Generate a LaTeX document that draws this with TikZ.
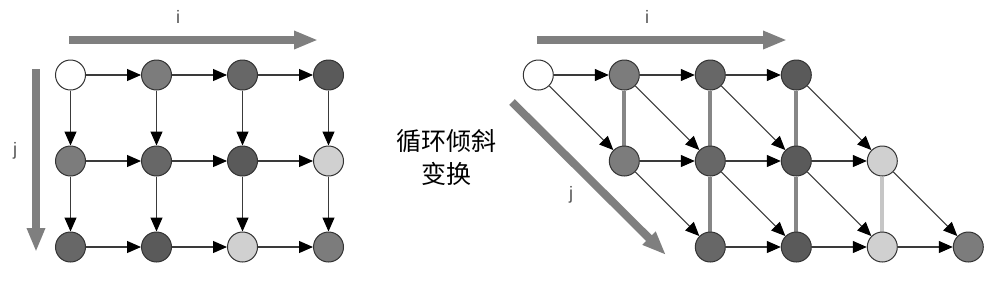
\documentclass[tikz,border=0pt]{standalone}
\usepackage{fontspec}
\setmainfont{Liberation Sans}
\newfontfamily\cjk{Noto Sans CJK SC}
\usetikzlibrary{arrows.meta}
\pgfdeclarelayer{bg}
\pgfsetlayers{bg,main}
\definecolor{cw}{HTML}{FFFFFF}
\definecolor{cm}{HTML}{7C7C7C}
\definecolor{cd}{HTML}{676767}
\definecolor{cx}{HTML}{5A5A5A}
\definecolor{cl}{HTML}{D0D0D0}
\definecolor{bigc}{HTML}{7F7F7F}
\definecolor{edgec}{HTML}{3A3A3A}
\definecolor{labc}{HTML}{555555}
\begin{document}
\begin{tikzpicture}[x=1pt,y=-1pt,
  dot/.style={circle,draw=black!80,line width=1pt,minimum size=30pt,inner sep=0pt},
  dep/.style={draw=edgec,line width=1.1pt,-{Triangle[length=14pt,width=12pt,color=black]}},
  big/.style={draw=bigc,line width=8pt,-{Triangle[length=24pt,width=17pt]}},
  wave/.style={line width=4pt},
  lab/.style={text=labc,font=\fontsize{18}{20}\selectfont,inner sep=0pt}]
\useasboundingbox (0,0) rectangle (1000,301);
% nodes
\foreach \j/\cols in {0/{cw,cm,cd,cx},1/{cm,cd,cx,cl},2/{cd,cx,cl,cm}}{
  \foreach \c [count=\i from 0] in \cols {
    \node[dot,fill=\c] (L\j\i) at ({70.5+86*\i},{75+86*\j}) {};
    \node[dot,fill=\c] (R\j\i) at ({538.3+86*(\i+\j)},{75+86*\j}) {};
  }
}
% horizontal edges
\foreach \j in {0,1,2}{
  \foreach \i in {0,1,2}{
    \pgfmathtruncatemacro\ni{\i+1}
    \draw[dep] (L\j\i) -- (L\j\ni);
    \draw[dep] (R\j\i) -- (R\j\ni);
  }
}
% j-direction edges (vertical left, diagonal right)
\foreach \j in {0,1}{
  \foreach \i in {0,1,2,3}{
    \pgfmathtruncatemacro\nj{\j+1}
    \draw[dep] (L\j\i) -- (L\nj\i);
    \draw[dep] (R\j\i) -- (R\nj\i);
  }
}
% background and wavefront lines
\begin{pgfonlayer}{bg}
  \fill[white] (0,0) rectangle (1000,301);
  \draw[wave,draw=gray!95] (R01) -- (R10);
  \draw[wave,draw=gray!105!black] (R02) -- (R11) -- (R20);
  \draw[wave,draw=gray!105!black] (R03) -- (R12) -- (R21);
  \draw[wave,draw=gray!45] (R13) -- (R22);
\end{pgfonlayer}
% big direction arrows
\coordinate (LiA) at (69,40);  \coordinate (LiB) at (318,40);
\coordinate (LjA) at (36,69);  \coordinate (LjB) at (36,252);
\coordinate (RiA) at (537,40); \coordinate (RiB) at (787,40);
\coordinate (RjA) at (512,102); \coordinate (RjB) at (666,255);
\draw[big] (LiA) -- (LiB);
\draw[big] (LjA) -- (LjB);
\draw[big] (RiA) -- (RiB);
\draw[big] (RjA) -- (RjB);
\node[lab] (li) at (178,17) {i};
\node[lab] (lj) at (15,151) {j};
\node[lab] (ri) at (647,17) {i};
\node[lab] (rj) at (571,195) {j};
\node[align=center,font=\cjk\fontsize{25}{33}\selectfont,inner sep=0pt] (t) at (446,158) {循环倾斜\\变换};
\end{tikzpicture}
\end{document}
